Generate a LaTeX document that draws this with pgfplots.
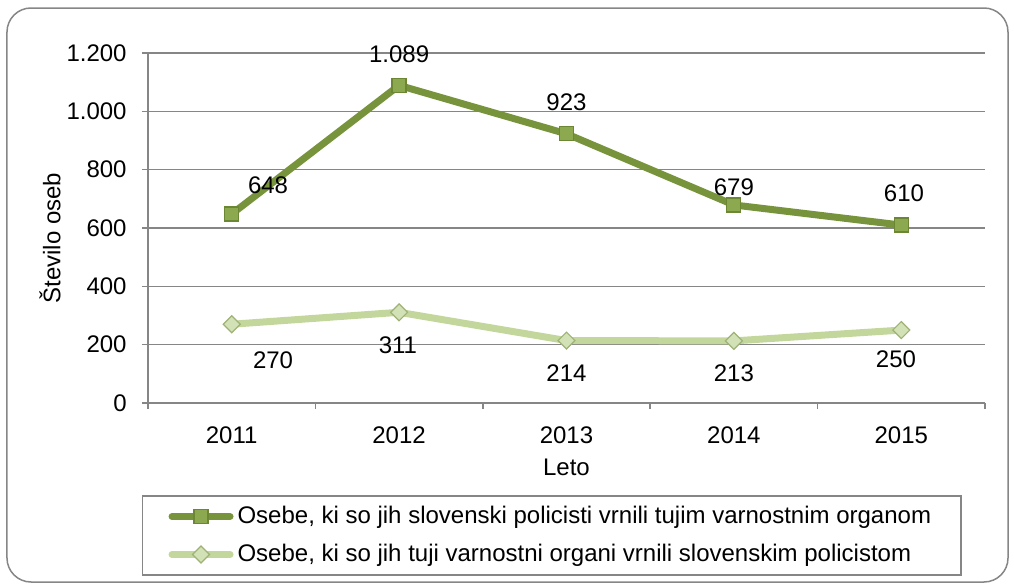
\documentclass[border=0pt]{standalone}
\usepackage{fontspec}
\setmainfont{Liberation Sans}
\usepackage{pgfplots}
\pgfplotsset{compat=1.18}
\definecolor{darkline}{HTML}{77933C}
\definecolor{sqfill}{HTML}{8DA94F}
\definecolor{sqdraw}{HTML}{6C8734}
\definecolor{lightline}{HTML}{C3D69B}
\definecolor{dmfill}{HTML}{D3E1B6}
\definecolor{dmdraw}{HTML}{9FB276}
\definecolor{gridgray}{HTML}{868686}
\begin{document}
\fontsize{12}{14.4}\selectfont
\begin{tikzpicture}
\begin{axis}[
  scale only axis,
  width=418.5pt, height=175pt,
  xmin=-0.5, xmax=4.5, ymin=0, ymax=1200,
  axis lines*=left,
  x axis line style={-, draw=gridgray, line width=0.75pt},
  y axis line style={-, draw=gridgray, line width=0.75pt},
  xtick={0,1,2,3,4},
  xticklabels={2011,2012,2013,2014,2015},
  minor xtick={-0.5,0.5,1.5,2.5,3.5,4.5},
  ytick={0,200,400,600,800,1000,1200},
  tick align=outside,
  major x tick style={draw=none},
  major tick length=3pt,
  minor tick length=3pt,
  every tick/.style={draw=gridgray, line width=0.75pt},
  ymajorgrids,
  major grid style={draw=gridgray, line width=0.75pt},
  yticklabel style={/pgf/number format/.cd,1000 sep={.},assume math mode=true, /tikz/.cd, xshift=-3.5pt},
  xticklabel style={yshift=-4.5pt},
  scaled y ticks=false,
  xlabel={Leto},
  ylabel={Število oseb},
  xlabel style={at={(axis description cs:0.5,-0.183)}, anchor=center},
  ylabel style={at={(axis description cs:-0.117,0.471)}, anchor=center},
  clip=false,
  legend style={
    at={(axis description cs:0.4825,-0.3786)}, anchor=center,
    draw=gridgray, line width=0.75pt,
    inner xsep=13pt, inner ysep=3pt, row sep=4.5pt,
    legend cell align=left,
    /tikz/every even column/.append style={column sep=0pt},
  },
  legend image code/.code={%
    \draw[#1, line cap=round] (0pt,0pt) -- (29pt,0pt);
    \draw[#1, mark repeat=1] plot coordinates {(14.5pt,0pt)};
  },
]
\addplot[darkline, line width=3.5pt, mark=square*,
  mark size=3.5pt, mark options={fill=sqfill, draw=sqdraw, line width=0.6pt}]
  coordinates {(0,648) (1,1089) (2,923) (3,679) (4,610)};
\addlegendentry{Osebe, ki so jih slovenski policisti vrnili tujim varnostnim organom}
\addplot[lightline, line width=3.5pt, mark=square*,
  mark size=3pt, mark options={rotate=45, fill=dmfill, draw=dmdraw, line width=0.6pt}]
  coordinates {(0,270) (1,311) (2,214) (3,213) (4,250)};
\addlegendentry{Osebe, ki so jih tuji varnostni organi vrnili slovenskim policistom}
\node at (axis cs:0.217,747) {648};
\node at (axis cs:1.0,1196) {1.089};
\node at (axis cs:2.0,1032) {923};
\node at (axis cs:3.0,740) {679};
\node at (axis cs:4.016,720) {610};
\node at (axis cs:0.247,147) {270};
\node at (axis cs:0.993,199) {311};
\node at (axis cs:2.0,103) {214};
\node at (axis cs:3.0,103) {213};
\node at (axis cs:3.968,151) {250};
\end{axis}
\path ([shift={(-74pt,-91pt)}]current axis.south west) rectangle ([shift={(433pt,201.5pt)}]current axis.south west);
\draw[gridgray, line width=0.75pt, rounded corners=12pt]
  ([shift={(-70.5pt,-89.5pt)}]current axis.south west) rectangle ([shift={(430pt,197.5pt)}]current axis.south west);
\end{tikzpicture}
\end{document}
